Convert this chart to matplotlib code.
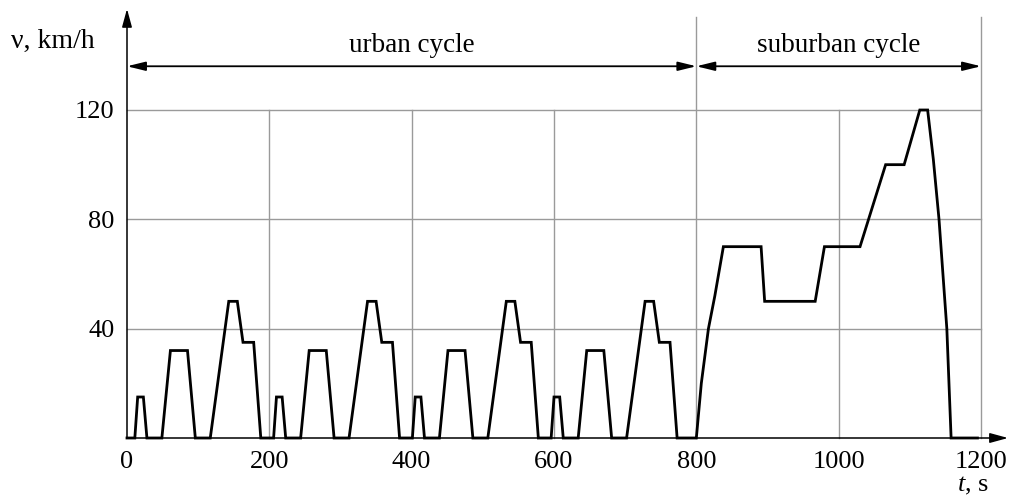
import matplotlib
matplotlib.use("Agg")
import matplotlib.pyplot as plt

# NEDC speed profile (time in s, speed in km/h)
t_urban1 = [0, 11, 15, 23, 28, 49, 61, 85, 96, 117, 143, 155, 163, 178, 188]
v_urban1 = [0, 0, 15, 15, 0, 0, 32, 32, 0, 0, 50, 50, 35, 35, 0]
t_urban2 = [195, 206, 210, 218, 223, 244, 256, 280, 291, 312, 338, 350, 358, 373, 383]
v_urban2 = [0, 0, 15, 15, 0, 0, 32, 32, 0, 0, 50, 50, 35, 35, 0]
t_urban3 = [390, 401, 405, 413, 418, 439, 451, 475, 486, 507, 533, 545, 553, 568, 578]
v_urban3 = [0, 0, 15, 15, 0, 0, 32, 32, 0, 0, 50, 50, 35, 35, 0]
t_urban4 = [585, 596, 600, 608, 613, 634, 646, 670, 681, 702, 728, 740, 748, 763, 773]
v_urban4 = [0, 0, 15, 15, 0, 0, 32, 32, 0, 0, 50, 50, 35, 35, 0]
t_suburb = [800, 807, 817, 826, 838, 891, 896, 967, 980, 1030, 1066, 1092, 1114, 1125,
            1133, 1141, 1152, 1158, 1195]
v_suburb = [0, 20, 40, 52, 70, 70, 50, 50, 70, 70, 100, 100, 120, 120,
            102, 80, 40, 0, 0]

t = t_urban1 + t_urban2 + t_urban3 + t_urban4 + t_suburb
v = v_urban1 + v_urban2 + v_urban3 + v_urban4 + v_suburb

x_ticks = [0, 200, 400, 600, 800, 1000, 1200]
y_ticks = [40, 80, 120]
y_tick_labels = ["40", "80", "120"]

plt.rcParams['font.family'] = ['Liberation Serif', 'DejaVu Serif']
plt.rcParams['mathtext.fontset'] = 'custom'
plt.rcParams['mathtext.it'] = 'Liberation Serif:italic'
plt.rcParams['mathtext.rm'] = 'Liberation Serif'

fig = plt.figure(figsize=(10.1, 4.97), dpi=100)
ax = fig.add_axes([127/1010, 59/497, 854/1010, 328/497])
ax.set_xlim(0, 1200)
ax.set_ylim(0, 120)
for s in ax.spines.values():
    s.set_visible(False)

grid_c = '#9a9a9a'
# grid
for x in x_ticks[1:]:
    top = 154 if x in (800, 1200) else 120
    ax.plot([x, x], [0, top], color=grid_c, lw=1.0, clip_on=False, zorder=1)
for y in y_ticks:
    ax.plot([0, 1200], [y, y], color=grid_c, lw=1.0, clip_on=False, zorder=1)

# axes with arrows
ax_arrow = dict(arrowstyle='-|>,head_length=1.1,head_width=0.3', color='k',
                lw=1.1, shrinkA=0, shrinkB=0, mutation_scale=10)
ax.annotate('', xy=(1238, 0), xytext=(0, 0), arrowprops=ax_arrow,
            annotation_clip=False, zorder=3)
ax.annotate('', xy=(0, 157), xytext=(0, 0), arrowprops=ax_arrow,
            annotation_clip=False, zorder=3)

# speed profile
ax.plot(t, v, color='k', lw=2.0, clip_on=False, zorder=4, solid_joinstyle='miter')

# cycle dimension arrows
dim_arrow = dict(arrowstyle='<|-|>,head_length=1.1,head_width=0.27', color='k',
                 lw=1.3, shrinkA=0, shrinkB=0, mutation_scale=10)
ax.annotate('', xy=(800, 136), xytext=(0, 136), arrowprops=dim_arrow,
            annotation_clip=False)
ax.annotate('', xy=(1200, 136), xytext=(800, 136), arrowprops=dim_arrow,
            annotation_clip=False)
ax.text(400, 143.5, 'urban cycle', ha='center', va='center', fontsize=19.5)
ax.text(1000, 143.5, 'suburban cycle', ha='center', va='center', fontsize=19.5)

# ticks
ax.set_xticks(x_ticks)
ax.set_yticks(y_ticks)
ax.set_yticklabels(y_tick_labels)
ax.tick_params(length=0, labelsize=19, pad=9)
ax.tick_params(axis='y', pad=9)

# axis labels
ax.text(-163, 145, 'ν, km/h', ha='left', va='center', fontsize=20)
ax.text(1189, -17.5, '$t$, s', ha='center', va='center', fontsize=19)

fig.savefig('out.png', dpi=100)
